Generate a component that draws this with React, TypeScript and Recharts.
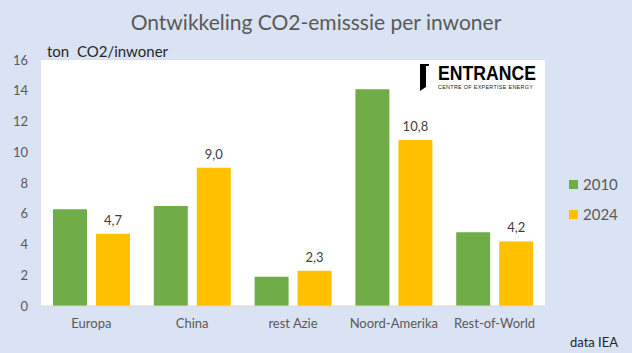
import React from "react";
import { BarChart, Bar, XAxis, YAxis, CartesianGrid, LabelList } from "recharts";

const regions = ["Europa", "China", "rest Azie", "Noord-Amerika", "Rest-of-World"];
const values2010 = [6.3, 6.5, 1.9, 14.1, 4.8];
const values2024 = [4.7, 9.0, 2.3, 10.8, 4.2];
const yTicks = [0, 2, 4, 6, 8, 10, 12, 14, 16];

const data = regions.map((r, i) => ({ region: r, y2010: values2010[i], y2024: values2024[i] }));

const FONT = "Lato, 'Liberation Sans', sans-serif";
const GREEN = "#70AD47";
const YELLOW = "#FFC000";
const TEXT = "#595959";

const fmt = (v: number) => v.toFixed(1).replace(".", ",");

const App: React.FC = () => {
  return (
    <div style={{ position: "absolute", left: 0, top: 0, width: 632, height: 353, background: "#DAE3F3", fontFamily: FONT }}>
      <div style={{ position: "absolute", left: 0, top: 9, width: 632, textAlign: "center", fontSize: 21, color: TEXT }}>
        Ontwikkeling CO2-emisssie per inwoner
      </div>
      <BarChart
        width={632}
        height={353}
        data={data}
        margin={{ top: 60, right: 87, left: 0, bottom: 17 }}
        barCategoryGap={12}
        barGap={9}
      >
        <rect x={41} y={60} width={504} height={246} fill="#FFFFFF" />
        <CartesianGrid vertical={false} stroke="#D9D9D9" strokeWidth={1} />
        <XAxis
          dataKey="region"
          height={30}
          axisLine={{ stroke: "#D9D9D9" }}
          tickLine={false}
          tick={{ fill: TEXT, fontSize: 13, fontFamily: FONT }}
          dy={5}
          interval={0}
        />
        <YAxis
          width={41}
          domain={[0, 16]}
          ticks={yTicks}
          axisLine={false}
          tickLine={false}
          tick={{ fill: TEXT, fontSize: 13, fontFamily: FONT }}
          dx={-5}
        />
        <Bar dataKey="y2010" fill={GREEN} isAnimationActive={false} />
        <Bar dataKey="y2024" fill={YELLOW} isAnimationActive={false}>
          <LabelList
            dataKey="y2024"
            position="top"
            offset={9}
            formatter={(v: any) => fmt(Number(v))}
            style={{ fill: "#404040", fontSize: 13, fontFamily: FONT }}
          />
        </Bar>
      </BarChart>
      <div style={{ position: "absolute", left: 47, top: 42, fontSize: 15, color: "#262626" }}>ton&nbsp; CO2/inwoner</div>
      <div style={{ position: "absolute", left: 570, top: 334, fontSize: 13, color: "#262626" }}>data IEA</div>
      <div style={{ position: "absolute", left: 569, top: 175, fontSize: 15, color: TEXT, lineHeight: "18px" }}>
        <div style={{ display: "flex", alignItems: "center" }}>
          <span style={{ width: 9, height: 9, background: GREEN, display: "inline-block", marginRight: 5 }} />
          2010
        </div>
        <div style={{ display: "flex", alignItems: "center", marginTop: 12 }}>
          <span style={{ width: 9, height: 9, background: YELLOW, display: "inline-block", marginRight: 5 }} />
          2024
        </div>
      </div>
      <svg style={{ position: "absolute", left: 412, top: 58 }} width={140} height={40}>
        <path d="M8 6 L17 6 L17 8 L14 8 L14 29 L8 33 Z" fill="#000" />
        <g transform="translate(26 22) scale(0.84 1)">
          <text x={0} y={0} fontFamily="'Liberation Sans', Arial, sans-serif" fontWeight="bold" fontSize={21} fill="#000">
            ENTRANCE
          </text>
        </g>
        <g transform="translate(26 31) scale(0.9 1)">
          <text x={0} y={0} fontFamily="'Liberation Sans', Arial, sans-serif" fontSize={6} letterSpacing={0.35} fill="#222">
            CENTRE OF EXPERTISE ENERGY
          </text>
        </g>
      </svg>
    </div>
  );
};

export default App;
